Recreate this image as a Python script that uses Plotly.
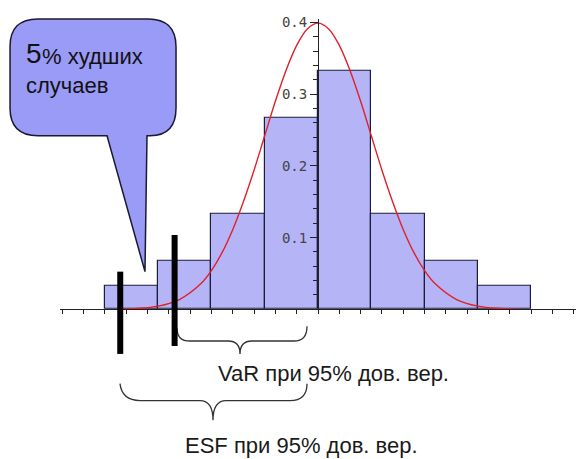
import plotly.graph_objects as go

# histogram bins (centres) and relative frequencies
bin_centers = [-3.5, -2.5, -1.5, -0.5, 0.5, 1.5, 2.5, 3.5]
bin_heights = [0.033, 0.067, 0.133, 0.267, 0.333, 0.133, 0.067, 0.033]

# red density curve
curve_x = [-3.7, -3.4, -3.0, -2.6, -2.2, -2.0, -1.8, -1.6, -1.4, -1.2, -1.0, -0.8, -0.6, -0.4, -0.2, 0.0,
           0.2, 0.4, 0.6, 0.8, 1.0, 1.2, 1.4, 1.6, 1.8, 2.0, 2.2, 2.6, 3.0, 3.4, 3.8]
curve_y = [0.0004, 0.0012, 0.0044, 0.0136, 0.0355, 0.054, 0.079, 0.111, 0.150, 0.194, 0.242, 0.290, 0.333, 0.368, 0.391, 0.399,
           0.391, 0.368, 0.333, 0.290, 0.242, 0.194, 0.150, 0.111, 0.079, 0.054, 0.0355, 0.0136, 0.0044, 0.0012, 0.0003]

# thick black markers: ESF / VaR cut-offs
cut_x = [-3.71, -2.69]

y_ticks = [0.1, 0.2, 0.3, 0.4]
y_tick_text = ["0.1", "0.2", "0.3", "0.4"]

W, H = 576, 459


def px(x):
    return x / W


def py(y):
    return 1 - y / H


def path(points):
    # points: list of (cmd, [(x, y), ...]) in pixel coords
    out = []
    for cmd, pts in points:
        out.append(cmd + " " + " ".join(f"{px(a):.4f},{py(b):.4f}" for a, b in pts))
    return " ".join(out)


fig = go.Figure()

fig.add_trace(go.Bar(
    x=bin_centers,
    y=bin_heights,
    width=1,
    marker=dict(color="#b4b4f7", line=dict(color="#1c1c3c", width=1.2)),
    hoverinfo="skip"
))

fig.add_trace(go.Scatter(
    x=curve_x,
    y=curve_y,
    mode="lines",
    line=dict(color="#e0202a", width=1.4, shape="spline"),
    hoverinfo="skip"
))

# callout bubble
bubble = path([
    ("M", [(38, 15)]), ("L", [(148, 15)]), ("Q", [(176, 15), (176, 43)]),
    ("L", [(176, 105)]), ("Q", [(176, 133), (150, 133)]), ("L", [(147, 133)]),
    ("L", [(145, 270)]), ("L", [(107, 133)]), ("L", [(38, 133)]),
    ("Q", [(10, 133), (10, 105)]), ("L", [(10, 43)]), ("Q", [(10, 15), (38, 15)]),
]) + " Z"

var_brace = path([
    ("M", [(177, 327)]), ("Q", [(177, 340), (190, 340)]), ("L", [(228, 340)]),
    ("Q", [(240, 340), (240, 353)]), ("Q", [(240, 340), (252, 340)]), ("L", [(294, 340)]),
    ("Q", [(307, 340), (307, 325)]),
])

esf_brace = path([
    ("M", [(120, 383)]), ("Q", [(122, 400), (140, 400)]), ("L", [(200, 400)]),
    ("Q", [(213, 400), (213, 420)]), ("Q", [(213, 400), (226, 400)]), ("L", [(290, 400)]),
    ("Q", [(307, 400), (307, 383)]),
])

shapes = [
    dict(type="path", xref="paper", yref="paper", path=bubble,
         fillcolor="#9a9af7", line=dict(color="#1a1a30", width=1.5), layer="above"),
    dict(type="path", xref="paper", yref="paper", path=var_brace,
         line=dict(color="#333333", width=1.3)),
    dict(type="path", xref="paper", yref="paper", path=esf_brace,
         line=dict(color="#333333", width=1.3)),
    dict(type="line", xref="x", yref="paper", x0=cut_x[0], x1=cut_x[0],
         y0=py(353), y1=py(270), line=dict(color="black", width=6), layer="above"),
    dict(type="line", xref="x", yref="paper", x0=cut_x[1], x1=cut_x[1],
         y0=py(345), y1=py(233), line=dict(color="black", width=6), layer="above"),
]

annotations = [
    dict(x=px(24), y=py(50), xref="paper", yref="paper", text="5", showarrow=False,
         xanchor="left", yanchor="middle", font=dict(family="Liberation Sans", size=28, color="#111111")),
    dict(x=px(40), y=py(53), xref="paper", yref="paper", text="% худших", showarrow=False,
         xanchor="left", yanchor="middle", font=dict(family="Liberation Sans", size=22, color="#111111")),
    dict(x=px(24), y=py(82), xref="paper", yref="paper", text="случаев", showarrow=False,
         xanchor="left", yanchor="middle", font=dict(family="Liberation Sans", size=22, color="#111111")),
    dict(x=px(333), y=py(373), xref="paper", yref="paper", text="VaR при 95% дов. вер.", showarrow=False,
         xanchor="center", yanchor="middle", font=dict(family="Liberation Sans", size=22, color="#1a1a1a")),
    dict(x=px(301), y=py(445), xref="paper", yref="paper", text="ESF при 95% дов. вер.", showarrow=False,
         xanchor="center", yanchor="middle", font=dict(family="Liberation Sans", size=22, color="#1a1a1a")),
]

fig.update_layout(
    width=W,
    height=H,
    margin=dict(l=0, r=0, t=0, b=0),
    paper_bgcolor="white",
    plot_bgcolor="white",
    showlegend=False,
    bargap=0,
    shapes=shapes,
    annotations=annotations,
    xaxis=dict(
        domain=[60 / W, 1],
        range=[-4.84, 4.84],
        anchor="y",
        showgrid=False,
        zeroline=False,
        showline=True,
        linecolor="#222222",
        linewidth=1,
        ticks="outside",
        ticklen=4,
        tickcolor="#222222",
        tick0=0,
        dtick=0.4,
        showticklabels=False,
    ),
    yaxis=dict(
        domain=[(H - 308) / H, (H - 15) / H],
        range=[0, 0.405],
        anchor="free",
        position=318 / W,
        showgrid=False,
        zeroline=False,
        showline=True,
        linecolor="#222222",
        linewidth=1,
        ticks="outside",
        ticklen=8,
        tickcolor="#222222",
        tickvals=y_ticks,
        ticktext=y_tick_text,
        tickfont=dict(family="DejaVu Sans Mono", size=14, color="#444444"),
        minor=dict(dtick=0.02, tick0=0, ticks="outside", ticklen=5, tickcolor="#222222"),
    ),
)

# drop the browser's default body margin so the figure fills the window exactly
fig.write_html("out.html", config={"displayModeBar": False},
               post_script="document.body.style.margin='0';")
